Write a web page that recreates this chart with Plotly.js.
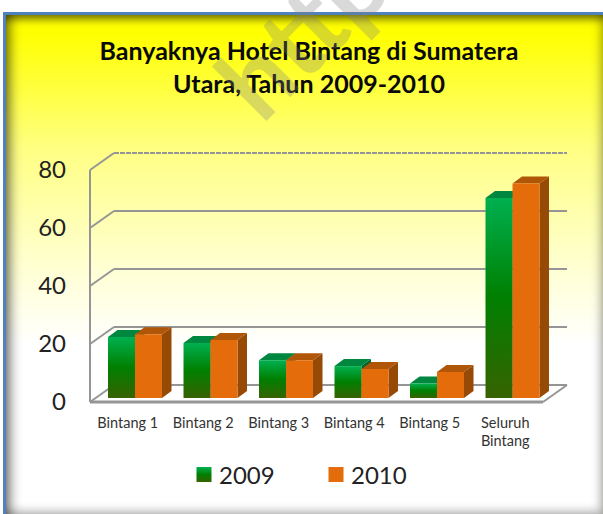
<!DOCTYPE html>
<html>
<head>
<meta charset="utf-8">
<script src="https://cdn.plot.ly/plotly-3.0.1.min.js"></script>
<style>
html,body{margin:0;padding:0;background:#fff;width:603px;height:514px;overflow:hidden}
#panel{position:absolute;left:3px;top:12px;width:620px;height:520px;box-sizing:border-box;
 border-top:3px solid #4F81BD;border-left:3px solid #4F81BD;
 background:linear-gradient(180deg,#FFFF00 18px,#FFFF84 135px,#FFFFD4 255px,#FFFFFF 330px)}
#shade{position:absolute;left:6px;top:15px;width:597px;height:499px;
 box-shadow:inset 12px 0 12px -8px rgba(0,0,0,.55), inset 0 9px 9px -5px rgba(50,50,0,.7), inset -9px -9px 10px -6px rgba(0,0,0,.28)}
#chart{position:absolute;left:0;top:0;width:603px;height:514px}
</style>
</head>
<body>
<div id="panel"></div>
<div id="shade"></div>
<div id="chart"></div>
<script>
var categories = ['Bintang 1','Bintang 2','Bintang 3','Bintang 4','Bintang 5','Seluruh<br>Bintang'];
var values2009 = [21, 19, 13, 11, 5, 69];
var values2010 = [22, 20, 13, 10, 9, 74];
var yTicks = [0, 20, 40, 60, 80];
var seriesNames = ['2009', '2010'];
var chartTitle = 'Banyaknya Hotel Bintang di Sumatera<br>Utara, Tahun 2009-2010';

var W = 603, H = 514, L = 67, R = 590, T = 130, B = 412;
var pxX = 75.5, pxY = 2.9;
var index = categories.map(function (_, i) { return i; });

function xRange(p0) { return [(L - p0) / pxX, (R - p0) / pxX]; }
function yRange(p0) { return [(p0 - B) / pxY, (p0 - T) / pxY]; }

var frameColor = '#959595';
var dx = 24 / pxX, dy = 17 / pxY;
var barW = 0.3576, depX = 9.5 / pxX, depY = 7 / pxY;
var shapes = [];
function seg(x0, y0, x1, y1, dash, w) {
  shapes.push({type:'line', xref:'x', yref:'y', x0:x0, y0:y0, x1:x1, y1:y1, layer:'below',
    line:{color:frameColor, width:w||2, dash:dash||'solid'}});
}
var xa = -0.5, xb = categories.length - 0.5;
seg(xa, 0, xa, yTicks[yTicks.length-1]);
seg(xa, 0, xb, 0, null, 3);
seg(xb, 0, xb + dx, dy);
yTicks.forEach(function (v) {
  seg(xa, v, xa + dx, v + dy);
  seg(xa + dx, v + dy, xb + dx, v + dy, v === 80 ? '5px,1px' : 'solid');
});

function faces(vals, off, kind) {
  var xs = [], ys = [];
  vals.forEach(function (v, i) {
    var a = index[i] + off, b = a + barW;
    if (kind === 'top') {
      xs.push(a, a + depX, b + depX, b, a, null);
      ys.push(v, v + depY, v + depY, v, v, null);
    } else {
      xs.push(b, b + depX, b + depX, b, b, null);
      ys.push(0, depY, v + depY, v, 0, null);
    }
  });
  return {x:xs, y:ys};
}
function faceTrace(vals, off, kind, color) {
  var f = faces(vals, off, kind);
  return {type:'scatter', mode:'lines', x:f.x, y:f.y, xaxis:'x2', yaxis:'y2', fill:'toself',
    fillcolor:color, line:{width:0, color:color}, hoverinfo:'skip', showlegend:false, connectgaps:false};
}

var traces = [
  {type:'scatter', mode:'markers', x:[0], y:[0], xaxis:'x', yaxis:'y', marker:{opacity:0}, hoverinfo:'skip', showlegend:false},
  faceTrace(values2009, -barW, 'side', '#00622C'),
  faceTrace(values2009, -barW, 'top', '#00873F'),
  faceTrace(values2010, 0, 'side', '#964A05'),
  faceTrace(values2010, 0, 'top', '#B05608'),
  {type:'bar', name:seriesNames[0], x:index, y:values2009, xaxis:'x3', yaxis:'y3', marker:{color:'#00802A', line:{width:0}}},
  {type:'bar', name:seriesNames[1], x:index, y:values2010, xaxis:'x3', yaxis:'y3', marker:{color:'#E46C0A', line:{width:0}}}
];

function hidden(range, over) { return {range:range, autorange:false, visible:false, overlaying:over, fixedrange:true}; }

var layout = {
  width:W, height:H, autosize:false,
  paper_bgcolor:'rgba(0,0,0,0)', plot_bgcolor:'rgba(0,0,0,0)',
  margin:{l:L, r:W-R, t:T, b:H-B, pad:0, autoexpand:false},
  font:{family:'Lato, "Open Sans", sans-serif', color:'#222'},
  title:{text:chartTitle, font:{family:'Lato, sans-serif', size:25, color:'#0a0a0a', weight:700},
    x:309/W, xanchor:'center', y:1-60/H, yanchor:'middle', xref:'container', yref:'container'},
  barmode:'group', bargap:0.285, bargroupgap:0,
  xaxis:{range:xRange(90 + 0.5*pxX), autorange:false, tickmode:'array', tickvals:index, ticktext:categories,
    showgrid:false, zeroline:false, showline:false, ticks:'', tickfont:{size:14.5, color:'#333'}, fixedrange:true, automargin:false, tickangle:0},
  yaxis:{range:yRange(402), autorange:false, tickmode:'array', tickvals:yTicks, ticktext:yTicks.map(String),
    showgrid:false, zeroline:false, showline:false, ticks:'', tickfont:{size:24, color:'#222'}, fixedrange:true, automargin:false},
  xaxis2:hidden(xRange(135), 'x'),
  yaxis2:hidden(yRange(398), 'y'),
  xaxis3:hidden(xRange(135), 'x'),
  yaxis3:hidden(yRange(398), 'y'),
  shapes:shapes,
  legend:{orientation:'h', x:311/W, xanchor:'center', xref:'container', y:1-475/H, yref:'container', yanchor:'middle',
    font:{size:24, color:'#222'}, bgcolor:'rgba(0,0,0,0)', entrywidth:87, entrywidthmode:'pixels', itemwidth:30, traceorder:'normal'},
  annotations:[{text:'http', xref:'paper', yref:'paper', x:(301-L)/(R-L), y:(B-30)/(B-T),
    showarrow:false, textangle:-45, xanchor:'center', yanchor:'middle',
    font:{family:'Lato, sans-serif', size:104, weight:700, color:'rgba(128,128,128,0.3)'}}]
};

Plotly.newPlot('chart', traces, layout, {displayModeBar:false, staticPlot:true}).then(function (gd) {
  var svgNS = 'http://www.w3.org/2000/svg';
  var defs = gd.querySelector('.main-svg defs');
  var g = document.createElementNS(svgNS, 'linearGradient');
  g.setAttribute('id', 'green3d');
  g.setAttribute('x1', '0'); g.setAttribute('y1', '0'); g.setAttribute('x2', '0'); g.setAttribute('y2', '1');
  [['0','#00B050'],['0.5','#007F00'],['1','#376200']].forEach(function (s) {
    var st = document.createElementNS(svgNS, 'stop');
    st.setAttribute('offset', s[0]); st.setAttribute('stop-color', s[1]);
    g.appendChild(st);
  });
  defs.appendChild(g);
  var barTraces = gd.querySelectorAll('.barlayer .trace.bars');
  if (barTraces.length) {
    barTraces[0].querySelectorAll('.point path').forEach(function (p) { p.style.fill = 'url(#green3d)'; });
  }
  var legs = gd.querySelectorAll('.legend .traces');
  legs.forEach(function (l, i) {
    var p = l.querySelector('.legendpoints path');
    if (!p) return;
    if (i === 0) p.style.fill = 'url(#green3d)';
    p.setAttribute('transform', 'translate(25,0) scale(1.25)');
  });
});
</script>
</body>
</html>
